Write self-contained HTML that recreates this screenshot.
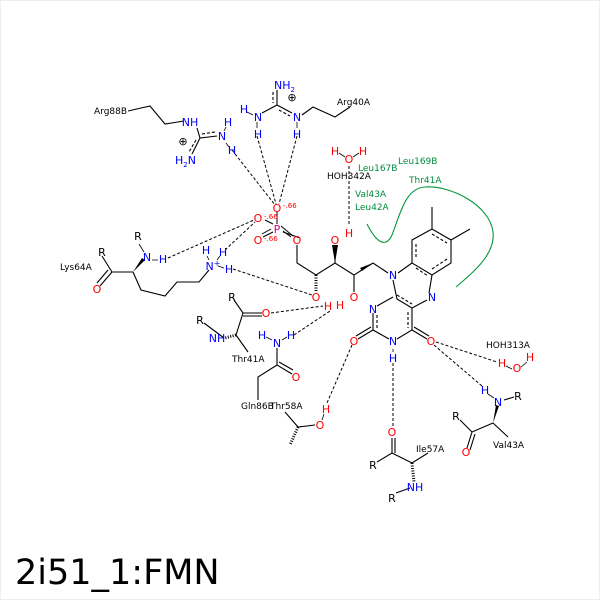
<!DOCTYPE html>
<html><head><meta charset="utf-8"><style>
html,body{margin:0;padding:0;background:#fff}
svg{display:block}
text{font-family:"DejaVu Sans","Liberation Sans",sans-serif;font-size:11px}
.b{fill:#000}.n{fill:#0000ff}.o{fill:#ff0000}.g{fill:#008c3c}.p{fill:#d4008c}
</style></head><body>
<svg width="600" height="600" viewBox="0 0 600 600" xmlns="http://www.w3.org/2000/svg">
<rect x="0.5" y="0.5" width="599" height="599" fill="#fff" stroke="#eee"/>
<g stroke="#000" stroke-width="1.1" fill="none">
<path d="M412,263 L412,240 L432,229 L451,240 L451,263 L432,275 Z"/>
<path d="M416,244 L416,259 M432,234 L447,243 M447,259 L432,269" stroke-dasharray="3,2"/>
<path d="M432,229 L432,207 M451,240 L470,229"/>
<path d="M398,273 L412,263 M432,275 L429,293 M427,300 L412,308 L397,299 L393,280"/>
<path d="M397,295 L412,304 M416,268 L428,276" stroke-dasharray="3,2"/>
<path d="M393,297 L377,306 M373,313 L373,330 L389,339 M397,339 L412,330 L412,308"/>
<path d="M377,315 L377,328 M408,312 L408,328" stroke-dasharray="3,2"/>
<path d="M373,330 L358,339 M371,327 L356,336 M412,330 L427,339 M414,327 L429,336"/>
<path d="M388,273 L373,263"/>
<path d="M373,263 L354,275 L354,292 M354,275 L335,263 L316,275 L297,263 L297,245 M335,263 L335,245"/>
<path d="M300,238 L283,232"/>
<path d="M128,111 L150,106 L165,124 L184,121 M197,128 L200,138 L217,136 M200,138 L192,154"/>
<path d="M202,134 L215,132 M196,140 L189,152" stroke-dasharray="3,2"/>
<path d="M277,90 L277,105 L262,113 M277,105 L292,113 M302,115 L313,107 L335,117 L350,107"/>
<path d="M273,92 L273,103 M279,110 L290,116" stroke-dasharray="3,2"/>
<path d="M102,256 L112,272 L133,272 M112,272 L100,286 M108,270 L97,283 M133,272 L141,290 L165,296 L177,282 L199,282 L209,270"/>
<path d="M234,300 L243,313 L262,313 M243,316 L262,316 M243,313 L236,335 L248,352 M224,338 L204,323"/>
<path d="M277,348 L277,365 L292,374 M279,362 L293,370 M277,365 L258,377 L258,400"/>
<path d="M285,412 L298,427 L315,425"/>
<path d="M392,438 L392,453 M395,438 L395,453 M392,453 L377,462 M392,453 L412,463 L428,453"/>
<path d="M396,493 L410,488"/>
<path d="M504,400 L514,397 M493,423 L472,432 L460,420 M472,432 L467,448 M475,434 L470,450 M493,423 L508,437"/>
</g>
<g stroke="#000" stroke-width="0.8">
<path d="M139,244 L144,252 M266,337 L272,340 M282,340 L287,337 M247,112 L253,115 M488,394 L494,398 M506,366 L512,369 M521,367 L527,362 M322,420 L324,414 M224,131 L226,127 M226,143 L229,147 M152,260 L158,260 M218,266 L224,268 M209,260 L207,256 M217,260 L220,256 M257,122 L257,128 M297,122 L297,128 M393,349 L393,352"/>
</g>
<g fill="#000">
<polygon points="373,263 360,268 362,271"/>
<polygon points="335,263 332,245 338,245"/>
<polygon points="133,272 145,260 142,258"/>
<polygon points="493,423 496,405 499,406"/>
</g>
<g stroke="#000" stroke-width="3" stroke-dasharray="1,1.5">
<path d="M316,275 L316,292"/>
<path d="M236,335 L225,338"/>
<path d="M298,427 L290,445"/>
<path d="M412,463 L414,482"/>
</g>
<g stroke="#000" stroke-width="1">
<path d="M273,224 L265,220 M281,226 L293,236 M283,231 L291,237 M273,232 L263,237 M271,229 L262,234 M277,224 L277,212"/>
</g>
<g stroke="#000" stroke-width="1" stroke-dasharray="3,2" fill="none">
<path d="M232,150 L275,205 M257,136 L276,204 M297,136 L279,204"/>
<path d="M168,258 L254,220 M225,250 L255,222 M233,269 L312,295"/>
<path d="M349,166 L349,226"/>
<path d="M271,313 L323,306 M294,335 L330,311"/>
<path d="M352,345 L327,403"/>
<path d="M393,363 L393,427"/>
<path d="M436,342 L497,362 M434,345 L482,386"/>
</g>
<path d="M367,224 C375,240 385,250 392,235 C400,215 405,188 425,187 C450,185 490,205 493,232 C496,255 470,275 456,287" stroke="#00963c" stroke-width="1.1" fill="none"/>
<text x="393" y="279" class="n" text-anchor="middle">N</text>
<text x="432" y="301" class="n" text-anchor="middle">N</text>
<text x="373" y="313" class="n" text-anchor="middle">N</text>
<text x="393" y="345" class="n" text-anchor="middle">N</text>
<text x="393" y="362" class="n" text-anchor="middle">H</text>
<text x="354" y="345" class="o" text-anchor="middle">O</text>
<text x="431" y="345" class="o" text-anchor="middle">O</text>
<text x="354" y="301" class="o" text-anchor="middle">O</text>
<text x="340" y="309" class="o" text-anchor="middle">H</text>
<text x="335" y="244" class="o" text-anchor="middle">O</text>
<text x="349" y="237" class="o" text-anchor="middle">H</text>
<text x="316" y="301" class="o" text-anchor="middle">O</text>
<text x="328" y="310" class="o" text-anchor="middle">H</text>
<text x="297" y="244" class="o" text-anchor="middle">O</text>
<text x="277" y="233" class="p" text-anchor="middle">P</text>
<text x="277" y="212" class="o" text-anchor="middle">O</text><text x="283" y="208" class="o" style="font-size:7px">-.66</text>
<text x="258" y="222" class="o" text-anchor="middle">O</text><text x="264" y="219" class="o" style="font-size:7px">-.66</text>
<text x="258" y="244" class="o" text-anchor="middle">O</text><text x="264" y="241" class="o" style="font-size:7px">-.66</text>
<text x="335" y="155" class="o" text-anchor="middle">H</text>
<text x="349" y="163" class="o" text-anchor="middle">O</text>
<text x="363" y="155" class="o" text-anchor="middle">H</text>
<path d="M339,153 L345,157 M353,157 L359,153" stroke="#000" stroke-width="0.8"/>
<text x="327" y="179" class="b" style="font-size:9px">HOH342A</text>
<text x="358" y="171" class="g" style="font-size:9px">Leu167B</text>
<text x="398" y="164" class="g" style="font-size:9px">Leu169B</text>
<text x="409" y="183" class="g" style="font-size:9px">Thr41A</text>
<text x="355" y="197" class="g" style="font-size:9px">Val43A</text>
<text x="355" y="210" class="g" style="font-size:9px">Leu42A</text>
<text x="94" y="114" class="b" style="font-size:9px">Arg88B</text>
<text x="190" y="126" class="n" text-anchor="middle">NH</text>
<text x="183" y="145" class="b" text-anchor="middle" style="font-size:11px">⊕</text>
<text x="222" y="140" class="n" text-anchor="middle">N</text>
<text x="228" y="126" class="n" text-anchor="middle">H</text>
<text x="232" y="154" class="n" text-anchor="middle">H</text>
<text x="175" y="164" class="n">H<tspan dy="3" style="font-size:7px">2</tspan><tspan dy="-3">N</tspan></text>
<text x="274" y="89" class="n">NH<tspan dy="3" style="font-size:7px">2</tspan></text>
<text x="292" y="101" class="b" text-anchor="middle" style="font-size:11px">⊕</text>
<text x="258" y="121" class="n" text-anchor="middle">N</text>
<text x="244" y="113" class="n" text-anchor="middle">H</text>
<text x="258" y="138" class="n" text-anchor="middle">H</text>
<text x="297" y="121" class="n" text-anchor="middle">N</text>
<text x="297" y="138" class="n" text-anchor="middle">H</text>
<text x="337" y="105" class="b" style="font-size:9px">Arg40A</text>
<text x="60" y="270" class="b" style="font-size:9px">Lys64A</text>
<text x="102" y="256" class="b" text-anchor="middle">R</text>
<text x="97" y="293" class="o" text-anchor="middle">O</text>
<text x="138" y="240" class="b" text-anchor="middle">R</text>
<text x="147" y="261" class="n" text-anchor="middle">N</text>
<text x="163" y="263" class="n" text-anchor="middle">H</text>
<text x="213" y="270" class="n" text-anchor="middle">N<tspan dy="-4" style="font-size:8px">+</tspan></text>
<text x="206" y="254" class="n" text-anchor="middle">H</text>
<text x="223" y="256" class="n" text-anchor="middle">H</text>
<text x="229" y="273" class="n" text-anchor="middle">H</text>
<text x="232" y="301" class="b" text-anchor="middle">R</text>
<text x="266" y="317" class="o" text-anchor="middle">O</text>
<text x="200" y="324" class="b" text-anchor="middle">R</text>
<text x="217" y="342" class="n" text-anchor="middle">NH</text>
<text x="232" y="362" class="b" style="font-size:9px">Thr41A</text>
<text x="262" y="339" class="n" text-anchor="middle">H</text>
<text x="277" y="347" class="n" text-anchor="middle">N</text>
<text x="291" y="339" class="n" text-anchor="middle">H</text>
<text x="296" y="381" class="o" text-anchor="middle">O</text>
<text x="241" y="409" class="b" style="font-size:9px">Gln86B</text>
<text x="270" y="409" class="b" style="font-size:9px">Thr58A</text>
<text x="320" y="429" class="o" text-anchor="middle">O</text>
<text x="326" y="413" class="o" text-anchor="middle">H</text>
<text x="392" y="436" class="o" text-anchor="middle">O</text>
<text x="373" y="469" class="b" text-anchor="middle">R</text>
<text x="416" y="452" class="b" style="font-size:9px">Ile57A</text>
<text x="415" y="491" class="n" text-anchor="middle">NH</text>
<text x="392" y="502" class="b" text-anchor="middle">R</text>
<text x="486" y="348" class="b" style="font-size:9px">HOH313A</text>
<text x="502" y="367" class="o" text-anchor="middle">H</text>
<text x="517" y="372" class="o" text-anchor="middle">O</text>
<text x="530" y="361" class="o" text-anchor="middle">H</text>
<text x="485" y="394" class="n" text-anchor="middle">H</text>
<text x="498" y="406" class="n" text-anchor="middle">N</text>
<text x="518" y="400" class="b" text-anchor="middle">R</text>
<text x="456" y="420" class="b" text-anchor="middle">R</text>
<text x="466" y="456" class="o" text-anchor="middle">O</text>
<text x="493" y="448" class="b" style="font-size:9px">Val43A</text>
<text x="15" y="584" class="b" style="font-size:35px">2i51_1:FMN</text>
</svg>
</body></html>
